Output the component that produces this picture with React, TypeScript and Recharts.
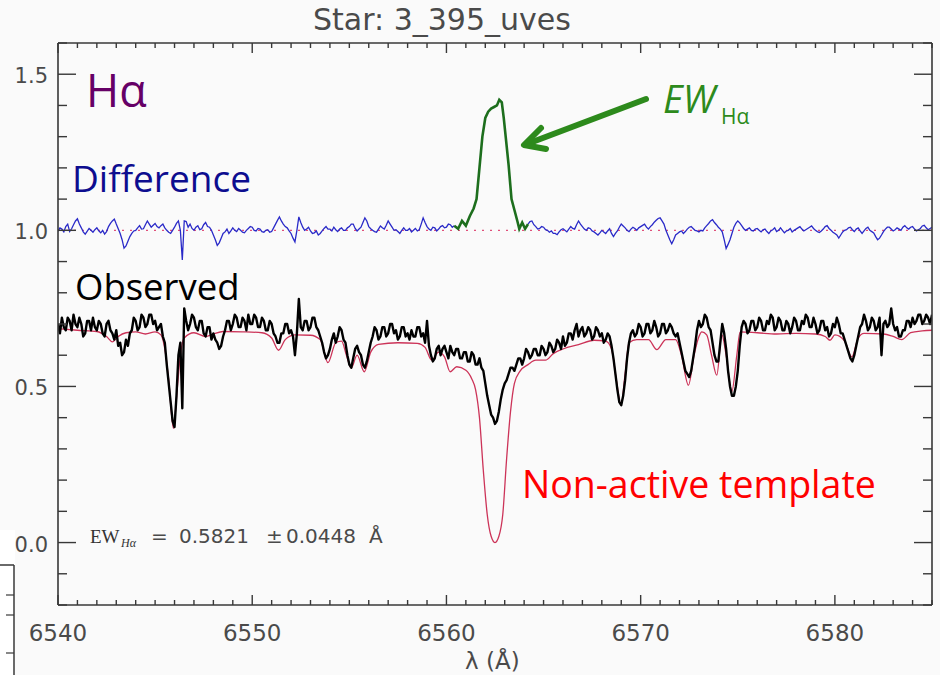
import React from 'react';
import { LineChart, Line, XAxis, YAxis, ReferenceLine } from 'recharts';

// ---------- DATA ----------
const WL_START = 6540;
const WL_STEP = 0.1;

// Observed spectrum (black), sampled every 0.1 Å from 6540 Å (one row = 2 Å)
const observedFlux = [
  0.70, 0.67, 0.72, 0.69, 0.68, 0.72, 0.71, 0.68, 0.73, 0.70, 0.69, 0.72, 0.70, 0.66, 0.67, 0.71, 0.71, 0.68, 0.72, 0.69,
  0.68, 0.71, 0.70, 0.67, 0.66, 0.70, 0.71, 0.68, 0.67, 0.65, 0.68, 0.63, 0.64, 0.60, 0.61, 0.65, 0.63, 0.67, 0.68, 0.72,
  0.71, 0.68, 0.69, 0.73, 0.72, 0.69, 0.70, 0.73, 0.73, 0.70, 0.71, 0.68, 0.69, 0.70, 0.66, 0.64, 0.57, 0.51, 0.45, 0.39,
  0.37, 0.47, 0.60, 0.64, 0.43, 0.75, 0.71, 0.68, 0.70, 0.73, 0.72, 0.69, 0.68, 0.71, 0.71, 0.67, 0.66, 0.69, 0.69, 0.65,
  0.67, 0.65, 0.64, 0.62, 0.63, 0.66, 0.68, 0.71, 0.71, 0.68, 0.70, 0.73, 0.72, 0.69, 0.69, 0.72, 0.71, 0.68, 0.73, 0.70,
  0.70, 0.73, 0.72, 0.69, 0.69, 0.72, 0.71, 0.68, 0.68, 0.71, 0.70, 0.67, 0.66, 0.64, 0.64, 0.67, 0.67, 0.70, 0.70, 0.67,
  0.68, 0.66, 0.60, 0.67, 0.78, 0.69, 0.68, 0.71, 0.71, 0.68, 0.69, 0.72, 0.72, 0.69, 0.68, 0.66, 0.64, 0.61, 0.59, 0.60,
  0.62, 0.65, 0.67, 0.64, 0.66, 0.69, 0.68, 0.65, 0.64, 0.60, 0.57, 0.56, 0.59, 0.62, 0.63, 0.61, 0.60, 0.57, 0.56, 0.58,
  0.61, 0.64, 0.66, 0.69, 0.68, 0.65, 0.66, 0.69, 0.69, 0.66, 0.67, 0.70, 0.70, 0.67, 0.68, 0.65, 0.66, 0.69, 0.69, 0.66,
  0.67, 0.65, 0.68, 0.66, 0.66, 0.69, 0.69, 0.66, 0.67, 0.64, 0.71, 0.63, 0.60, 0.58, 0.59, 0.62, 0.63, 0.60, 0.62, 0.63,
  0.61, 0.59, 0.63, 0.61, 0.60, 0.62, 0.62, 0.59, 0.59, 0.61, 0.61, 0.58, 0.58, 0.61, 0.60, 0.57, 0.57, 0.59, 0.56, 0.55,
  0.51, 0.47, 0.44, 0.41, 0.40, 0.38, 0.39, 0.42, 0.46, 0.49, 0.51, 0.52, 0.54, 0.56, 0.56, 0.55, 0.57, 0.59, 0.59, 0.57,
  0.59, 0.62, 0.61, 0.59, 0.60, 0.62, 0.62, 0.60, 0.60, 0.63, 0.62, 0.60, 0.61, 0.64, 0.63, 0.61, 0.62, 0.65, 0.64, 0.62,
  0.66, 0.63, 0.64, 0.67, 0.67, 0.65, 0.68, 0.70, 0.66, 0.68, 0.69, 0.66, 0.67, 0.69, 0.68, 0.65, 0.66, 0.69, 0.68, 0.66,
  0.67, 0.64, 0.65, 0.67, 0.66, 0.63, 0.59, 0.54, 0.49, 0.45, 0.44, 0.47, 0.52, 0.59, 0.64, 0.67, 0.68, 0.66, 0.67, 0.70,
  0.69, 0.66, 0.67, 0.70, 0.70, 0.67, 0.68, 0.71, 0.69, 0.66, 0.67, 0.70, 0.70, 0.67, 0.68, 0.70, 0.69, 0.67, 0.66, 0.67,
  0.64, 0.61, 0.58, 0.55, 0.54, 0.53, 0.55, 0.59, 0.63, 0.68, 0.71, 0.69, 0.70, 0.73, 0.72, 0.69, 0.68, 0.64, 0.60, 0.58,
  0.58, 0.64, 0.70, 0.67, 0.62, 0.55, 0.50, 0.47, 0.47, 0.50, 0.55, 0.63, 0.69, 0.71, 0.70, 0.67, 0.68, 0.71, 0.71, 0.68,
  0.69, 0.72, 0.71, 0.68, 0.68, 0.71, 0.70, 0.73, 0.72, 0.68, 0.69, 0.72, 0.71, 0.68, 0.68, 0.71, 0.70, 0.67, 0.69, 0.72,
  0.71, 0.68, 0.68, 0.71, 0.70, 0.73, 0.72, 0.69, 0.69, 0.72, 0.70, 0.67, 0.68, 0.71, 0.71, 0.68, 0.69, 0.66, 0.67, 0.70,
  0.69, 0.72, 0.70, 0.67, 0.67, 0.65, 0.63, 0.61, 0.59, 0.58, 0.60, 0.63, 0.66, 0.69, 0.70, 0.73, 0.71, 0.68, 0.69, 0.72,
  0.71, 0.68, 0.69, 0.72, 0.60, 0.70, 0.71, 0.69, 0.70, 0.75, 0.70, 0.68, 0.69, 0.66, 0.66, 0.68, 0.68, 0.71, 0.71, 0.69,
  0.72, 0.70, 0.71, 0.73, 0.73, 0.70, 0.71, 0.73, 0.72, 0.70, 0.73,
];

// Difference spectrum (blue), same grid; gap where the emission (green) is drawn
const differenceFlux = [
  0.997, 1.008, 1.004, 0.995, 1.012, 1.02, 0.996, 1.005, 1.018, 1.03, 1.037, 1.02, 1.008, 0.995, 0.988, 0.997, 1.006, 1.0, 0.994, 1.002,
  1.008, 0.998, 0.992, 1.0, 0.988, 0.996, 1.012, 1.022, 1.03, 1.036, 1.02, 1.005, 0.99, 0.97, 0.943, 0.95, 0.965, 0.98, 0.99, 0.998,
  1.0, 1.008, 1.015, 1.004, 1.005, 1.018, 1.03, 1.02, 1.01, 1.016, 1.022, 1.012, 1.008, 1.015, 1.02, 1.008, 1.0, 0.994, 0.99, 1.0,
  1.01, 1.022, 1.03, 1.0, 0.905, 1.03, 1.028, 1.01, 1.02, 1.006, 1.0, 1.01, 1.015, 1.002, 1.005, 1.018, 1.025, 1.012, 1.01, 1.0,
  0.985, 0.97, 0.952, 0.96, 0.975, 0.99, 0.995, 1.004, 0.99, 0.998, 1.008, 1.0, 0.996, 1.006, 1.0, 0.994, 0.992, 1.0, 1.006, 1.012,
  1.01, 1.0, 0.998, 1.006, 1.004, 0.996, 0.994, 1.0, 1.002, 0.994, 0.996, 1.008, 1.02, 1.032, 1.043, 1.03, 1.02, 1.012, 1.008, 0.998,
  0.99, 0.975, 0.963, 1.0, 1.043, 1.025, 1.01, 1.0, 1.004, 1.01, 0.998, 0.99, 0.992, 0.998, 0.985, 0.99, 0.998, 1.006, 1.012, 1.004,
  1.004, 0.998, 1.01, 1.002, 0.996, 1.004, 1.008, 1.0, 1.0, 1.008, 1.012, 1.02, 1.02, 1.006, 0.998, 1.004, 1.01, 1.025, 1.04, 1.03,
  1.012, 1.005, 1.0, 0.996, 0.994, 1.004, 1.014, 1.008, 1.004, 1.016, 1.03, 1.02, 1.01, 1.0, 1.002, 0.996, 0.99, 1.0, 1.008, 1.0,
  1.0, 1.006, 0.995, 1.0, 1.006, 0.998, 1.002, 1.02, 1.04, 1.025, 1.012, 1.004, 1.0, 1.01, 1.008, 0.998, 1.004, 1.012, 1.015, 1.008,
  1.01, 1.02, 1.018, 1.01, 1.015, null, null, null, null, null, null, null, null, null, null, null, null, null, null, null,
  null, null, null, null, null, null, null, null, null, null, null, null, null, null, null, null, null, null, null, null,
  null, null, 1.02, 1.028, 1.03, 1.018, 1.012, 1.004, 1.006, 1.012, 1.01, 1.002, 1.0, 0.994, 0.998, 0.99, 0.99, 0.986, 0.995, 1.002,
  1.005, 1.0, 0.995, 1.004, 1.012, 1.006, 1.004, 1.018, 1.03, 1.02, 1.012, 1.004, 1.0, 1.008, 1.006, 0.998, 0.995, 0.99, 0.985, 0.992,
  1.0, 0.995, 0.99, 0.998, 1.005, 0.99, 0.98, 0.99, 0.998, 1.01, 1.02, 1.014, 1.008, 1.0, 0.996, 1.004, 1.01, 1.006, 1.0, 1.008,
  1.012, 1.016, 1.02, 1.01, 1.004, 1.012, 1.018, 1.026, 1.032, 1.038, 1.04, 1.03, 1.02, 1.0, 0.985, 0.97, 0.957, 0.97, 0.985, 0.99,
  0.995, 0.998, 0.99, 0.996, 1.004, 1.01, 1.012, 1.006, 1.0, 0.998, 0.995, 1.0, 0.998, 1.008, 1.015, 1.022, 1.03, 1.034, 1.025, 1.018,
  1.01, 1.004, 0.995, 0.97, 0.942, 0.955, 0.97, 0.99, 1.01, 1.022, 1.03, 1.024, 1.015, 1.006, 1.0, 1.004, 1.008, 1.0, 0.998, 1.004,
  1.006, 1.0, 0.995, 1.002, 1.004, 0.996, 0.99, 0.998, 1.002, 1.008, 0.996, 1.0, 1.008, 1.0, 0.992, 0.998, 1.0, 1.006, 0.995, 1.0,
  1.004, 1.008, 1.012, 1.004, 0.998, 1.002, 1.006, 1.01, 1.014, 1.006, 1.0, 0.996, 0.993, 0.998, 1.004, 1.012, 1.015, 1.006, 1.0, 0.994,
  0.99, 0.985, 0.975, 0.985, 0.995, 1.0, 1.002, 1.008, 1.01, 1.002, 0.996, 1.004, 1.008, 0.998, 0.99, 0.998, 1.006, 1.01, 1.0, 0.996,
  0.992, 0.98, 0.97, 0.975, 0.985, 0.996, 1.004, 1.01, 1.01, 1.004, 0.998, 1.002, 1.008, 1.004, 1.0, 1.01, 1.015, 1.008, 1.004, 1.01,
  1.012, 1.004, 0.998, 1.002, 1.006, 1.014, 1.016, 1.008, 1.002, 1.006, 1.01,
];

// Non-active template (pink), smooth spectrum read at key wavelengths
const templateWl = [
  6540.0, 6541.0, 6542.0, 6542.5, 6542.8, 6543.1, 6543.5, 6544.0, 6544.5, 6545.0,
  6545.3, 6545.55, 6545.7, 6545.94, 6546.15, 6546.3, 6546.5, 6547.0, 6547.6, 6548.0,
  6548.5, 6549.5, 6550.5, 6551.0, 6551.35, 6551.7, 6552.2, 6553.0, 6553.5, 6553.9,
  6554.3, 6554.6, 6554.85, 6555.1, 6555.4, 6555.77, 6556.1, 6556.5, 6557.5, 6558.5,
  6558.9, 6559.24, 6559.6, 6559.9, 6560.19, 6560.53, 6561.0, 6561.3, 6561.5, 6561.7,
  6561.9, 6562.1, 6562.3, 6562.5, 6562.7, 6562.9, 6563.1, 6563.3, 6563.5, 6563.8,
  6564.2, 6564.6, 6565.1, 6565.5, 6566.0, 6566.8, 6567.6, 6568.2, 6568.5, 6568.75,
  6568.99, 6569.2, 6569.4, 6569.8, 6570.4, 6570.83, 6571.3, 6571.8, 6572.1, 6572.46,
  6572.75, 6573.0, 6573.15, 6573.4, 6573.65, 6573.92, 6574.18, 6574.4, 6574.69, 6574.95,
  6575.12, 6576.0, 6577.0, 6578.0, 6579.0, 6579.5, 6579.75, 6580.0, 6580.5, 6580.87,
  6581.2, 6581.5, 6582.5, 6583.0, 6583.44, 6583.9, 6584.5, 6585.0,
];
const templateFlux = [
  0.685, 0.68, 0.676, 0.66, 0.643, 0.66, 0.672, 0.675, 0.668, 0.675,
  0.665, 0.6, 0.52, 0.366, 0.5, 0.6, 0.655, 0.672, 0.66, 0.668,
  0.676, 0.675, 0.672, 0.655, 0.616, 0.65, 0.665, 0.664, 0.65, 0.576,
  0.64, 0.645, 0.6, 0.559, 0.6, 0.547, 0.61, 0.635, 0.64, 0.638,
  0.625, 0.584, 0.61, 0.595, 0.547, 0.563, 0.552, 0.525, 0.49, 0.4,
  0.23, 0.09, 0.02, 0.0, 0.02, 0.09, 0.27, 0.42, 0.51, 0.55,
  0.57, 0.584, 0.584, 0.605, 0.62, 0.634, 0.648, 0.645, 0.62, 0.52,
  0.44, 0.54, 0.64, 0.65, 0.65, 0.618, 0.65, 0.65, 0.6, 0.504,
  0.6, 0.66, 0.675, 0.665, 0.6, 0.536, 0.665, 0.6, 0.483, 0.6,
  0.675, 0.672, 0.668, 0.67, 0.668, 0.66, 0.648, 0.665, 0.645, 0.595,
  0.655, 0.67, 0.668, 0.66, 0.65, 0.672, 0.678, 0.68,
];

// Hα emission excess in the difference spectrum (green)
const emissionWl = [
  6560.4, 6560.6, 6560.8, 6561.0, 6561.2, 6561.4, 6561.55, 6561.7, 6561.85, 6562.0,
  6562.15, 6562.3, 6562.45, 6562.6, 6562.72, 6562.85, 6562.95, 6563.05, 6563.2, 6563.35,
  6563.5, 6563.65, 6563.75, 6563.9, 6564.05, 6564.2,
];
const emissionFlux = [
  1.015, 1.005, 1.03, 1.015, 1.045, 1.07, 1.1, 1.2, 1.3, 1.36,
  1.38, 1.39, 1.395, 1.4, 1.418, 1.41, 1.36, 1.3, 1.21, 1.1,
  1.065, 1.03, 1.005, 1.025, 1.005, 1.02,
];

const xTicks = [
  6540, 6541, 6542, 6543, 6544, 6545, 6546, 6547, 6548, 6549,
  6550, 6551, 6552, 6553, 6554, 6555, 6556, 6557, 6558, 6559,
  6560, 6561, 6562, 6563, 6564, 6565, 6566, 6567, 6568, 6569,
  6570, 6571, 6572, 6573, 6574, 6575, 6576, 6577, 6578, 6579,
  6580, 6581, 6582, 6583, 6584, 6585,
];
const xLabelTicks = [6540, 6550, 6560, 6570, 6580];
const yTicks = [
  -0.2, -0.1, 0.0, 0.1, 0.2, 0.3, 0.4, 0.5, 0.6, 0.7,
  0.8, 0.9, 1.0, 1.1, 1.2, 1.3, 1.4, 1.5, 1.6,
];
const yLabelTicks = [0.0, 0.5, 1.0, 1.5];

// ---------- BUILD ----------
const onGrid = (vals: (number | null)[]) =>
  vals.map((v, i) => ({ x: Math.round((WL_START + i * WL_STEP) * 100) / 100, y: v }));
const pair = (xs: number[], ys: number[]) => xs.map((x, i) => ({ x, y: ys[i] }));

const observedData = onGrid(observedFlux);
const differenceData = onGrid(differenceFlux);
const templateData = pair(templateWl, templateFlux);
const emissionData = pair(emissionWl, emissionFlux);

const AX = '#383838';
const LABEL = '#4a4a4a';
const FONT = 'DejaVu Sans';

const isLabelY = (v: number) => yLabelTicks.some((t) => Math.abs(t - v) < 1e-6);
const isLabelX = (v: number) => xLabelTicks.includes(v);

const LeftTick = (p: any) => {
  const v = p.payload.value;
  const major = isLabelY(v);
  return (
    <g>
      <line x1={p.x} x2={p.x + (major ? 18 : 9)} y1={p.y} y2={p.y} stroke={AX} strokeWidth={1.4} />
      {major && (
        <text x={p.x - 10} y={p.y + 9} textAnchor="end" fontFamily={FONT} fontSize={21} fill={LABEL}>
          {v.toFixed(1)}
        </text>
      )}
    </g>
  );
};
const RightTick = (p: any) => {
  const major = isLabelY(p.payload.value);
  return <line x1={p.x - (major ? 18 : 9)} x2={p.x} y1={p.y} y2={p.y} stroke={AX} strokeWidth={1.4} />;
};
const BottomTick = (p: any) => {
  const v = p.payload.value;
  const major = isLabelX(v);
  return (
    <g>
      <line x1={p.x} x2={p.x} y1={p.y} y2={p.y - (major ? 10 : 5)} stroke={AX} strokeWidth={1.4} />
      {major && (
        <text x={p.x} y={p.y + 36} textAnchor="middle" fontFamily={FONT} fontSize={23} fill={LABEL}>
          {v}
        </text>
      )}
    </g>
  );
};
const TopTick = (p: any) => {
  const major = isLabelX(p.payload.value);
  return <line x1={p.x} x2={p.x} y1={p.y} y2={p.y + (major ? 10 : 5)} stroke={AX} strokeWidth={1.4} />;
};

export default function App() {
  return (
    <div style={{ position: 'absolute', left: 0, top: 0, width: 940, height: 675, background: '#fafafa' }}>
      <LineChart width={940} height={675} margin={{ top: 42, right: 7, bottom: 0, left: 0 }}>
        <XAxis
          xAxisId="b"
          dataKey="x"
          type="number"
          domain={[6540, 6585]}
          allowDataOverflow
          ticks={xTicks}
          interval={0}
          height={70}
          tickSize={0}
          tickMargin={0}
          tickLine={false}
          tick={<BottomTick />}
          axisLine={{ stroke: AX, strokeWidth: 1.6 }}
        />
        <XAxis
          xAxisId="t"
          orientation="top"
          dataKey="x"
          type="number"
          domain={[6540, 6585]}
          allowDataOverflow
          ticks={xTicks}
          interval={0}
          height={1}
          tickSize={0}
          tickMargin={0}
          tickLine={false}
          tick={<TopTick />}
          axisLine={{ stroke: AX, strokeWidth: 1.6 }}
        />
        <YAxis
          yAxisId="l"
          type="number"
          domain={[-0.2, 1.6]}
          allowDataOverflow
          ticks={yTicks}
          interval={0}
          width={58}
          tickSize={0}
          tickMargin={0}
          tickLine={false}
          tick={<LeftTick />}
          axisLine={{ stroke: AX, strokeWidth: 1.6 }}
        />
        <YAxis
          yAxisId="r"
          orientation="right"
          type="number"
          domain={[-0.2, 1.6]}
          allowDataOverflow
          ticks={yTicks}
          interval={0}
          width={1}
          tickSize={0}
          tickMargin={0}
          tickLine={false}
          tick={<RightTick />}
          axisLine={{ stroke: AX, strokeWidth: 1.6 }}
        />
        <ReferenceLine xAxisId="b" yAxisId="l" y={1} stroke="#e0507a" strokeWidth={1.2} strokeDasharray="2 6" />
        <Line
          xAxisId="t"
          yAxisId="r"
          data={templateData}
          dataKey="y"
          stroke="none"
          dot={false}
          activeDot={false}
          isAnimationActive={false}
        />
        <Line
          xAxisId="b"
          yAxisId="l"
          data={templateData}
          dataKey="y"
          type="monotone"
          stroke="#cc3358"
          strokeWidth={1.3}
          dot={false}
          activeDot={false}
          isAnimationActive={false}
        />
        <Line
          xAxisId="b"
          yAxisId="l"
          data={observedData}
          dataKey="y"
          type="linear"
          stroke="#000000"
          strokeWidth={2.4}
          strokeLinejoin="round"
          dot={false}
          activeDot={false}
          isAnimationActive={false}
        />
        <Line
          xAxisId="b"
          yAxisId="l"
          data={differenceData}
          dataKey="y"
          type="linear"
          stroke="#2a2ac8"
          strokeWidth={1.3}
          dot={false}
          activeDot={false}
          isAnimationActive={false}
        />
        <Line
          xAxisId="b"
          yAxisId="l"
          data={emissionData}
          dataKey="y"
          type="linear"
          stroke="#1d6e1d"
          strokeWidth={2.6}
          dot={false}
          activeDot={false}
          isAnimationActive={false}
        />
      </LineChart>
      <svg
        width={940}
        height={675}
        style={{ position: 'absolute', left: 0, top: 0, pointerEvents: 'none' }}
      >
        <text x={313} y={30} fontFamily={FONT} fontSize={30} fill={LABEL}>
          Star: 3_395_uves
        </text>
        <text x={465} y={669} fontFamily={FONT} fontSize={23} fill={LABEL}>
          λ (Å)
        </text>
        <text x={86} y={107} fontFamily="Open Sans" fontSize={45} fill="#660066">
          Hα
        </text>
        <text x={72} y={192} fontFamily="Open Sans" fontSize={37} fill="#0d0d8f">
          Difference
        </text>
        <text x={75} y={300} fontFamily="Open Sans" fontSize={36.5} fill="#000000">
          Observed
        </text>
        <text x={522} y={498} fontFamily="Open Sans" fontSize={37.5} fill="#ff0000">
          Non-active template
        </text>
        <text x={663} y={113} fontFamily="Open Sans" fontSize={38} fontStyle="italic" fill="#2d8a1c">
          EW
        </text>
        <text x={721} y={124} fontFamily="Open Sans" fontSize={21} fill="#2d8a1c">
          Hα
        </text>
        <line x1={646} y1={99} x2={527} y2={144} stroke="#2d8a1c" strokeWidth={6} strokeLinecap="round" />
        <polyline
          points="541,128 524,145 546,149"
          fill="none"
          stroke="#2d8a1c"
          strokeWidth={6}
          strokeLinecap="round"
          strokeLinejoin="round"
        />
        <text x={90} y={543} fontFamily="Liberation Serif" fontSize={19} fill="#333">
          EW
        </text>
        <text x={121} y={547} fontFamily="Liberation Serif" fontStyle="italic" fontSize={12} fill="#333">
          Hα
        </text>
        <text y={543} fontFamily={FONT} fontSize={20} fill={LABEL}>
          <tspan x={151}>=</tspan>
          <tspan x={179}>0.5821</tspan>
          <tspan x={266}>±</tspan>
          <tspan x={286}>0.0448</tspan>
          <tspan x={369}>Å</tspan>
        </text>
        <rect x={0} y={530} width={15} height={145} fill="#ffffff" />
        <line x1={14} y1={565} x2={14} y2={675} stroke={AX} strokeWidth={1.5} />
        <line x1={0} y1={565} x2={14} y2={565} stroke={AX} strokeWidth={1.5} />
        <line x1={6} y1={595} x2={14} y2={595} stroke={AX} strokeWidth={1.2} />
        <line x1={6} y1={615} x2={14} y2={615} stroke={AX} strokeWidth={1.2} />
        <line x1={6} y1={653} x2={14} y2={653} stroke={AX} strokeWidth={1.2} />
      </svg>
    </div>
  );
}
